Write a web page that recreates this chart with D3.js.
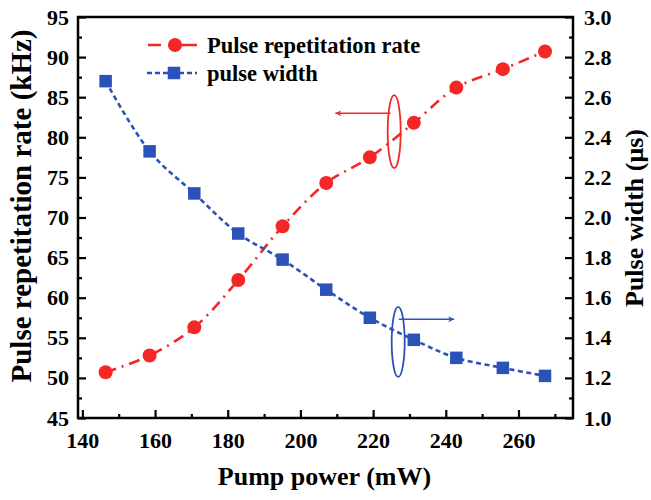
<!DOCTYPE html>
<html>
<head>
<meta charset="utf-8">
<script src="https://cdn.jsdelivr.net/npm/d3@7"></script>
<style>
  html, body { margin: 0; padding: 0; background: #fff; }
  svg { display: block; }
  text { font-family: "Liberation Serif", "Times New Roman", serif; font-weight: bold; fill: #000; }
</style>
</head>
<body>
<svg id="chart" width="651" height="500"></svg>
<script>
// ---- data ----
const power = [146.4, 158.5, 170.8, 182.9, 195.1, 207.1, 219.1, 231.2, 242.9, 255.7, 267.3];
const repRate = [50.7, 52.8, 56.3, 62.2, 68.9, 74.3, 77.5, 81.8, 86.2, 88.5, 90.7];
const pulseWidth = [2.68, 2.33, 2.12, 1.92, 1.79, 1.64, 1.50, 1.39, 1.30, 1.25, 1.21];

const xTicks = [140, 160, 180, 200, 220, 240, 260];
const xMinor = [150, 170, 190, 210, 230, 250, 270];
const yLeftTicks = [45, 50, 55, 60, 65, 70, 75, 80, 85, 90, 95];
const yLeftMinor = [47.5, 52.5, 57.5, 62.5, 67.5, 72.5, 77.5, 82.5, 87.5, 92.5];
const yRightTicks = [1.0, 1.2, 1.4, 1.6, 1.8, 2.0, 2.2, 2.4, 2.6, 2.8, 3.0];
const yRightMinor = [1.1, 1.3, 1.5, 1.7, 1.9, 2.1, 2.3, 2.5, 2.7, 2.9];

const seriesNames = ["Pulse repetitation rate", "pulse width"];
const xTitle = "Pump power (mW)";
const yLeftTitle = "Pulse repetitation rate (kHz)";
const yRightTitle = "Pulse width (\u03bcs)";

const red = "#f52626";
const blue = "#2a52b8";

// ---- layout ----
const L = 78, R = 573, T = 17, B = 418;
const svg = d3.select("#chart");

const x = d3.scaleLinear().domain([138.8, 275]).range([L, R]);
const yL = d3.scaleLinear().domain([45, 95]).range([B, T]);
const yR = d3.scaleLinear().domain([1.0, 3.0]).range([B, T]);

// axes
function styleAxis(g) {
  g.select(".domain").remove();
  g.selectAll(".tick line").attr("stroke", "#000").attr("stroke-width", 2.2);
  g.selectAll(".tick text").style("font-size", "22px");
}
svg.append("g").attr("transform", `translate(0,${B})`)
  .call(d3.axisBottom(x).tickValues(xTicks).tickSize(-8).tickPadding(14).tickFormat(d3.format("d")))
  .call(styleAxis);
svg.append("g").attr("transform", `translate(0,${B})`)
  .call(d3.axisBottom(x).tickValues(xMinor.filter(v => x(v) < R - 2)).tickSize(-4).tickFormat(""))
  .call(styleAxis);
svg.append("g").attr("transform", `translate(${L},0)`)
  .call(d3.axisLeft(yL).tickValues(yLeftTicks).tickSize(-8).tickPadding(9).tickFormat(d3.format("d")))
  .call(styleAxis);
svg.append("g").attr("transform", `translate(${L},0)`)
  .call(d3.axisLeft(yL).tickValues(yLeftMinor).tickSize(-4).tickFormat(""))
  .call(styleAxis);
svg.append("g").attr("transform", `translate(${R},0)`)
  .call(d3.axisRight(yR).tickValues(yRightTicks).tickSize(-8).tickPadding(11).tickFormat(d3.format(".1f")))
  .call(styleAxis);
svg.append("g").attr("transform", `translate(${R},0)`)
  .call(d3.axisRight(yR).tickValues(yRightMinor).tickSize(-4).tickFormat(""))
  .call(styleAxis);

// frame
svg.append("rect").attr("x", L).attr("y", T).attr("width", R - L).attr("height", B - T)
  .attr("fill", "none").attr("stroke", "#000").attr("stroke-width", 2.5);

// series
const redData = power.map((p, i) => [p, repRate[i]]);
const blueData = power.map((p, i) => [p, pulseWidth[i]]);

svg.append("path").datum(redData)
  .attr("d", d3.line().x(d => x(d[0])).y(d => yL(d[1])).curve(d3.curveCatmullRom))
  .attr("fill", "none").attr("stroke", red).attr("stroke-width", 2.6)
  .attr("stroke-dasharray", "11,6,2,6");
svg.append("path").datum(blueData)
  .attr("d", d3.line().x(d => x(d[0])).y(d => yR(d[1])).curve(d3.curveCatmullRom))
  .attr("fill", "none").attr("stroke", blue).attr("stroke-width", 2.6)
  .attr("stroke-dasharray", "5,3.5");

svg.append("g").selectAll("circle").data(redData).join("circle")
  .attr("cx", d => x(d[0])).attr("cy", d => yL(d[1])).attr("r", 7).attr("fill", red);
const sq = 12.5;
svg.append("g").selectAll("rect").data(blueData).join("rect")
  .attr("x", d => x(d[0]) - sq / 2).attr("y", d => yR(d[1]) - sq / 2)
  .attr("width", sq).attr("height", sq).attr("fill", blue);

// annotations (in data units)
const defs = svg.append("defs");
[["arRed", red], ["arBlue", blue]].forEach(([id, c]) => {
  defs.append("marker").attr("id", id).attr("viewBox", "0 0 10 10")
    .attr("refX", 10).attr("refY", 5).attr("markerWidth", 10).attr("markerHeight", 6)
    .attr("markerUnits", "userSpaceOnUse").attr("orient", "auto")
    .append("path").attr("d", "M0,0 L10,5 L0,10 L3,5 Z").attr("fill", c);
});
svg.append("ellipse").attr("cx", x(225.8)).attr("cy", yL(80.7)).attr("rx", 6.5).attr("ry", 36.5)
  .attr("fill", "none").attr("stroke", red).attr("stroke-width", 1.8);
svg.append("line").attr("x1", x(224.8)).attr("y1", yL(83.0)).attr("x2", x(209.6)).attr("y2", yL(83.0))
  .attr("stroke", red).attr("stroke-width", 1.5).attr("marker-end", "url(#arRed)");
svg.append("ellipse").attr("cx", x(226.9)).attr("cy", yR(1.38)).attr("rx", 6.5).attr("ry", 35)
  .attr("fill", "none").attr("stroke", blue).attr("stroke-width", 1.8);
svg.append("line").attr("x1", x(227.1)).attr("y1", yR(1.492)).attr("x2", x(242.3)).attr("y2", yR(1.492))
  .attr("stroke", blue).attr("stroke-width", 1.5).attr("marker-end", "url(#arBlue)");

// legend
const lg = svg.append("g");
lg.append("line").attr("x1", 148).attr("x2", 197).attr("y1", 45).attr("y2", 45)
  .attr("stroke", red).attr("stroke-width", 2.6).attr("stroke-dasharray", "13,7,100");
lg.append("circle").attr("cx", 175).attr("cy", 45).attr("r", 7).attr("fill", red);
lg.append("text").attr("x", 207).attr("y", 45).attr("dy", "0.35em").style("font-size", "22.5px").text(seriesNames[0]);
lg.append("line").attr("x1", 147).attr("x2", 197).attr("y1", 73).attr("y2", 73)
  .attr("stroke", blue).attr("stroke-width", 2.6).attr("stroke-dasharray", "5,3");
lg.append("rect").attr("x", 174 - sq / 2).attr("y", 73 - sq / 2).attr("width", sq).attr("height", sq).attr("fill", blue);
lg.append("text").attr("x", 207).attr("y", 73).attr("dy", "0.35em").style("font-size", "22.5px").text(seriesNames[1]);

// axis titles
svg.append("text").attr("x", (L + R) / 2 - 1).attr("y", 485).attr("text-anchor", "middle")
  .style("font-size", "26px").text(xTitle);
svg.append("text").attr("transform", `translate(31,206) rotate(-90)`).attr("text-anchor", "middle")
  .style("font-size", "29px").text(yLeftTitle);
svg.append("text").attr("transform", `translate(643,218) rotate(-90)`).attr("text-anchor", "middle")
  .style("font-size", "26px").text(yRightTitle);
</script>
</body>
</html>
